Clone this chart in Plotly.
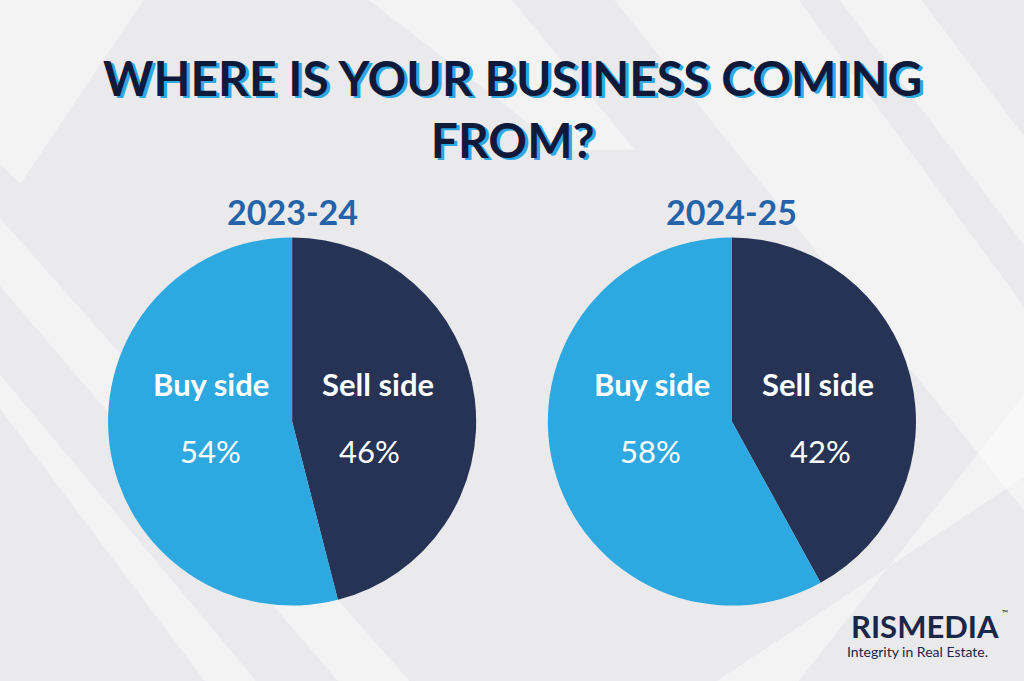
import plotly.graph_objects as go

# data
periods = ["2023-24", "2024-25"]
labels = ["Sell side", "Buy side"]
sell_share = [46, 42]
buy_share = [54, 58]
colors = ["#263354", "#2ea8e0"]

title_text = "WHERE IS YOUR BUSINESS COMING<br>FROM?"

fig = go.Figure()

domains = [[0.1055, 0.465], [0.535, 0.8945]]
for i, period in enumerate(periods):
    fig.add_trace(go.Pie(
        labels=labels,
        values=[sell_share[i], buy_share[i]],
        sort=False,
        direction="clockwise",
        rotation=0,
        marker=dict(colors=colors, line=dict(width=0)),
        textinfo="none",
        hoverinfo="label+percent",
        showlegend=False,
        domain=dict(x=domains[i], y=[0.11, 0.652]),
        name=period,
    ))

annotations = []
label_pos = [
    # (buy x, buy pct x, sell x, sell pct x)
    (0.206, 0.206, 0.369, 0.361),
    (0.637, 0.635, 0.799, 0.801),
]
for i, period in enumerate(periods):
    cx = sum(domains[i]) / 2
    annotations.append(dict(x=cx, y=0.69, text="<b>" + period + "</b>",
                            font=dict(size=34, color="#2463a9", family="Lato")))
    bx, bpx, sx, spx = label_pos[i]
    annotations.append(dict(x=bx, y=0.436, text="<b>Buy side</b>",
                            font=dict(size=31, color="white", family="Lato")))
    annotations.append(dict(x=bpx, y=0.338, text=f"{buy_share[i]}%",
                            font=dict(size=31, color="white", family="Lato")))
    annotations.append(dict(x=sx, y=0.436, text="<b>Sell side</b>",
                            font=dict(size=31, color="white", family="Lato")))
    annotations.append(dict(x=spx, y=0.338, text=f"{sell_share[i]}%",
                            font=dict(size=31, color="white", family="Lato")))

# title
annotations.append(dict(
    x=0.5, y=0.84, text="<b>" + title_text + "</b>",
    font=dict(size=48, color="#0f1a3a", family="Lato", shadow="3px 2px 0px #2ea8e0"),
))

# logo
annotations.append(dict(x=0.903, y=0.081, text="<b>RISMEDIA</b>",
                        font=dict(size=31, color="#1b2748", family="Lato")))
annotations.append(dict(x=0.981, y=0.100, text="™",
                        font=dict(size=8, color="#1b2748", family="Lato")))
annotations.append(dict(x=0.896, y=0.044, text="Integrity in Real Estate.",
                        font=dict(size=14, color="#1b2748", family="Lato")))

for a in annotations:
    a.update(xref="paper", yref="paper", showarrow=False, xanchor="center", yanchor="middle")

# background diagonal bands
bands = [
    "M 0.60 1 L 0.78 1 L 1 0.55 L 1 0.25 Z",
    "M 0.82 1 L 0.90 1 L 1 0.80 L 1 0.64 Z",
    "M 0 0.68 L 0 0.58 L 0.33 0 L 0.40 0 Z",
    "M 0 0.45 L 0 0.40 L 0.20 0 L 0.25 0 Z",
    "M 0 1 L 0.14 1 L 0.02 0.73 L 0 0.76 Z",
    "M 0.36 1 L 0.50 1 L 0.62 0.78 L 0.55 0.78 Z",
    "M 0.70 0 L 0.78 0 L 1 0.42 L 1 0.30 Z",
]
shapes = []
for p in bands:
    shapes.append(dict(type="path", path=p, xref="paper", yref="paper",
                       fillcolor="rgba(255,255,255,0.42)", line=dict(width=0),
                       layer="below"))

fig.update_layout(
    width=1024, height=681,
    margin=dict(l=0, r=0, t=0, b=0),
    paper_bgcolor="#eaeaec",
    plot_bgcolor="#eaeaec",
    annotations=annotations,
    shapes=shapes,
)

fig.write_html("out.html", config={"displayModeBar": False},
               post_script="document.body.style.margin='0';")
